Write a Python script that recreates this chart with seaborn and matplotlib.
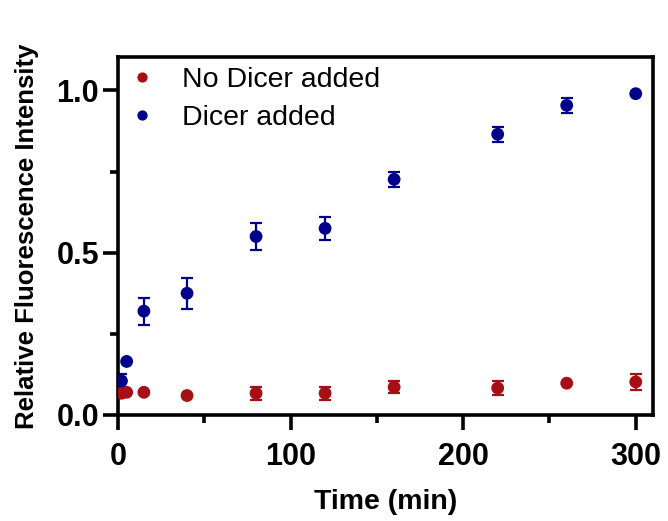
import matplotlib
matplotlib.use("Agg")
import matplotlib.pyplot as plt
import seaborn as sns
import pandas as pd
import numpy as np

time = [2, 5, 15, 40, 80, 120, 160, 220, 260, 300]
no_dicer = [0.067, 0.070, 0.070, 0.060, 0.067, 0.067, 0.086, 0.083, 0.098, 0.102]
no_dicer_err = [0.0, 0.0, 0.0, 0.0, 0.020, 0.020, 0.018, 0.021, 0.0, 0.024]
dicer = [0.105, 0.165, 0.320, 0.375, 0.550, 0.575, 0.726, 0.865, 0.954, 0.990]
dicer_err = [0.020, 0.0, 0.042, 0.048, 0.042, 0.035, 0.022, 0.023, 0.023, 0.0]
labels = ["No Dicer added", "Dicer added"]
colors = ["#A50F15", "#00008B"]

df = pd.concat([
    pd.DataFrame({"Time": time, "RFI": no_dicer, "err": no_dicer_err, "Group": labels[0]}),
    pd.DataFrame({"Time": time, "RFI": dicer, "err": dicer_err, "Group": labels[1]}),
])

sns.set_style("ticks")
plt.rcParams['font.family'] = ['Liberation Sans', 'DejaVu Sans']
plt.rcParams['text.color'] = 'black'
plt.rcParams['axes.labelcolor'] = 'black'
plt.rcParams['xtick.color'] = 'black'
plt.rcParams['ytick.color'] = 'black'

fig = plt.figure(figsize=(6.68, 5.21), dpi=100)
ax = fig.add_axes([118 / 668, 1 - 415 / 521, (653 - 118) / 668, (415 - 57) / 521])

for lab, col in zip(labels, colors):
    sub = df[df.Group == lab]
    ax.errorbar(sub.Time, sub.RFI, yerr=sub.err, fmt='none', ecolor=col,
                elinewidth=1.6, capsize=4.3, capthick=1.6, zorder=2)

sns.scatterplot(data=df, x="Time", y="RFI", hue="Group", palette=colors,
                hue_order=labels, s=85, edgecolor='none', ax=ax, zorder=3)

ax.set_xlim(0, 310)
ax.set_ylim(0, 1.103)
ax.set_xticks([0, 100, 200, 300])
ax.set_xticks([50, 150, 250], minor=True)
ax.set_yticks([0.0, 0.5, 1.0])
ax.set_yticks([0.25, 0.75], minor=True)
ax.set_yticklabels(["0.0", "0.5", "1.0"])
for s in ax.spines.values():
    s.set_linewidth(2.6)
    s.set_color("black")
ax.tick_params(which='major', length=10.5, width=2.6, labelsize=22, pad=3)
ax.tick_params(axis='x', which='major', pad=9)
ax.tick_params(which='minor', length=5.5, width=2.6)
for t in ax.get_xticklabels() + ax.get_yticklabels():
    t.set_fontweight('bold')
ax.set_xlabel("Time (min)", fontsize=20.5, fontweight='bold', labelpad=12)
ax.set_ylabel("Relative Fluorescence Intensity", fontsize=18.5, fontweight='bold', labelpad=13)

leg = ax.legend(loc='upper left', frameon=False, fontsize=20.5, handletextpad=0.9,
                handlelength=1.0, borderaxespad=0.0, borderpad=0.35,
                labelspacing=0.42, markerscale=0.8)

fig.savefig("out.png", dpi=100)
